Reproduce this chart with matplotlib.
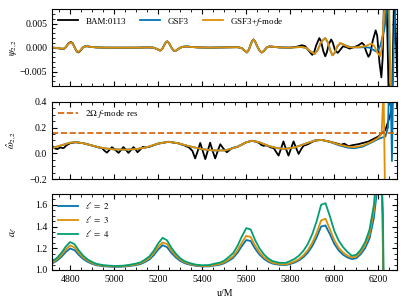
import numpy as np
import matplotlib
matplotlib.use('Agg')
import matplotlib.pyplot as plt
from matplotlib.ticker import MultipleLocator

plt.rcParams['font.family'] = 'serif'
plt.rcParams['font.serif'] = ['Liberation Serif', 'DejaVu Serif']
plt.rcParams['mathtext.fontset'] = 'stix'
plt.rcParams['font.size'] = 7
plt.rcParams['axes.linewidth'] = 0.8

C_BLUE = '#0173B2'
C_ORANGE = '#DE8F05'
C_GREEN = '#029E73'
C_RED = '#D55E00'

# ---- top panel: psi_22 (units of 1e-3) ----
u_psi_early = [4718, 4740, 4760, 4772, 4782, 4792, 4803, 4812, 4822, 4830, 4837, 4846, 4857,
               4866, 4878, 4895, 4920, 4960, 5100, 5150, 5180, 5195, 5209, 5218, 5228, 5236,
               5242, 5250, 5260, 5270, 5278, 5288, 5300, 5315, 5330, 5350, 5380, 5430, 5500,
               5560, 5580, 5592, 5603, 5612, 5620, 5627, 5633, 5640, 5650, 5660, 5670, 5680,
               5692, 5705, 5720, 5750, 5800]
psi_early = [0.0, -0.05, -0.2, -0.2, 0.2, 0.8, 1.1, 0.8, -0.1, -0.7, -0.9, -0.6, 0.0,
             0.25, 0.3, 0.15, 0.05, 0.0, 0.0, 0.05, 0.0, -0.3, -0.6, -0.3, 0.6, 1.2,
             1.3, 0.9, 0.0, -0.6, -0.7, -0.4, 0.0, 0.2, 0.25, 0.15, 0.05, 0.0, 0.05,
             0.1, -0.1, -0.6, -1.0, -0.4, 0.6, 1.4, 1.7, 1.3, 0.3, -0.6, -1.0, -0.7,
             0.0, 0.25, 0.2, 0.05, 0.0]
# BAM:0113 is slightly stronger in the first burst
psi_early_bam = [0.0, -0.08, -0.25, -0.25, 0.2, 0.9, 1.2, 0.9, -0.1, -0.8, -1.0, -0.7, 0.0,
                 0.25, 0.3, 0.15, 0.05, 0.0, 0.0, 0.05, 0.0, -0.3, -0.6, -0.3, 0.6, 1.2,
                 1.3, 0.9, 0.0, -0.6, -0.7, -0.4, 0.0, 0.2, 0.25, 0.15, 0.05, 0.0, 0.05,
                 0.1, -0.1, -0.6, -1.0, -0.4, 0.6, 1.4, 1.7, 1.3, 0.3, -0.6, -1.0, -0.7,
                 0.0, 0.25, 0.2, 0.05, 0.0]

u_psi_f_late = [5850, 5875, 5892, 5911, 5925, 5940, 5959, 5972, 5982, 5992, 6002, 6013, 6027,
                6040, 6060, 6080, 6110, 6140, 6160, 6171, 6182, 6195, 6209, 6216, 6222, 6228,
                6238, 6248, 6253, 6258, 6262]
psi_f_late = [0.15, -0.1, -0.8, -1.3, -0.5, 1.2, 2.0, 1.0, -0.6, -1.6, -1.0, 0.3, 1.0,
              0.7, 0.2, 0.05, 0.1, 0.3, 0.7, 0.8, 0.3, -1.0, -1.8, 0.0, 4.0, 9.0,
              12.0, 12.0, 0.0, -12.0, -12.0]

u_psi_g_late = [5850, 5875, 5892, 5911, 5925, 5940, 5959, 5972, 5982, 5992, 6002, 6013, 6027,
                6040, 6060, 6080, 6110, 6140, 6160, 6175, 6190, 6200, 6210, 6220, 6227, 6234,
                6240, 6246, 6252, 6258, 6264, 6270, 6278]
psi_g_late = [0.15, -0.1, -0.8, -1.3, -0.5, 1.2, 2.0, 1.0, -0.6, -1.6, -1.1, 0.2, 0.9,
              0.7, 0.3, 0.1, 0.05, 0.1, 0.0, -0.4, -0.8, -0.5, 0.5, 2.5, 3.7, 6.0,
              12.0, 8.0, -2.0, -12.0, -12.0, 0.0, 8.0]

u_psi_bam_late = [5830, 5853, 5868, 5885, 5900, 5908, 5918, 5932, 5940, 5950, 5959, 5966, 5975,
                  5986, 5993, 6003, 6016, 6028, 6040, 6055, 6070, 6083, 6095, 6110, 6126, 6135,
                  6145, 6155, 6163, 6175, 6188, 6195, 6205, 6214, 6220, 6227, 6237, 6248, 6262,
                  6272, 6286]
psi_bam_late = [0.2, 0.5, 0.3, -0.7, -1.5, -1.0, 0.5, 2.0, 1.3, -0.7, -1.8, -1.0, 0.7,
                1.7, 1.1, -0.5, -1.1, -0.4, 0.3, 0.1, -0.2, 0.0, 0.2, 0.5, 1.0, 0.6,
                -0.8, -1.9, -1.3, 1.5, 3.6, 2.5, -3.0, -6.2, -2.0, 12.0, 12.0, -12.0, -12.0,
                12.0, -6.0]

# ---- middle panel: omega_hat_22 ----
u_om_f = [4718, 4760, 4800, 4825, 4860, 4900, 4950, 5000, 5050, 5100, 5150, 5200, 5247,
          5290, 5340, 5400, 5450, 5505, 5560, 5600, 5626, 5660, 5700, 5740, 5773, 5820,
          5870, 5910, 5941, 5980, 6020, 6060, 6091, 6130, 6170, 6198, 6215, 6224, 6232]
om_f = [0.040, 0.062, 0.082, 0.086, 0.078, 0.060, 0.040, 0.030, 0.028, 0.032, 0.048, 0.075, 0.089,
        0.078, 0.055, 0.032, 0.022, 0.022, 0.050, 0.085, 0.097, 0.085, 0.058, 0.040, 0.034, 0.045,
        0.075, 0.098, 0.104, 0.090, 0.068, 0.052, 0.047, 0.060, 0.090, 0.118, 0.150, 0.50, -0.50]

u_om_g = [4718, 4760, 4800, 4825, 4860, 4900, 4950, 5000, 5050, 5100, 5150, 5200, 5247,
          5290, 5340, 5400, 5450, 5505, 5560, 5600, 5626, 5660, 5700, 5740, 5773, 5820,
          5870, 5910, 5941, 5980, 6020, 6060, 6091, 6130, 6170, 6198, 6232, 6244, 6250,
          6256, 6262, 6268]
om_g = [0.040, 0.062, 0.082, 0.086, 0.078, 0.060, 0.040, 0.030, 0.028, 0.032, 0.048, 0.075, 0.089,
        0.078, 0.055, 0.032, 0.022, 0.022, 0.050, 0.085, 0.097, 0.085, 0.058, 0.040, 0.034, 0.045,
        0.075, 0.098, 0.104, 0.088, 0.063, 0.044, 0.039, 0.052, 0.085, 0.110, 0.130, 0.20, 0.60,
        0.50, -0.06, 0.60]

u_om_bam = [4718, 4725, 4733, 4742, 4750, 4757, 4765, 4772, 4782, 4800, 4825, 4860, 4900,
            4930, 4945, 4956, 4967, 4978, 4990, 5004, 5020, 5031, 5042, 5054, 5065, 5076,
            5088, 5097, 5106, 5118, 5130, 5142, 5160, 5200, 5247, 5290, 5320, 5340, 5355,
            5368, 5380, 5391, 5402, 5414, 5425, 5436, 5447, 5459, 5470, 5482, 5497, 5512,
            5524, 5535, 5560, 5600, 5626, 5650, 5662, 5671, 5680, 5690, 5700, 5712, 5725,
            5736, 5747, 5758, 5769, 5780, 5792, 5803, 5815, 5827, 5838, 5849, 5860, 5880,
            5910, 5941, 5980, 6020, 6030, 6045, 6065, 6080, 6110, 6155, 6200, 6232, 6255,
            6270, 6278, 6286]
om_bam = [0.055, 0.048, 0.036, 0.032, 0.040, 0.046, 0.040, 0.042, 0.060, 0.078, 0.086, 0.078, 0.060,
          0.045, 0.040, 0.020, 0.005, 0.025, 0.047, 0.028, 0.003, 0.025, 0.048, 0.025, 0.003, 0.025,
          0.048, 0.030, 0.008, 0.028, 0.050, 0.045, 0.050, 0.075, 0.089, 0.078, 0.060, 0.045, 0.020,
          -0.040, 0.020, 0.080, 0.020, -0.045, 0.018, 0.082, 0.020, -0.040, 0.015, 0.070, 0.035, 0.008,
          0.025, 0.040, 0.050, 0.085, 0.097, 0.088, 0.075, 0.062, 0.058, 0.062, 0.055, 0.045, 0.040,
          0.010, -0.018, 0.035, 0.092, 0.035, -0.018, 0.035, 0.092, 0.040, -0.005, 0.030, 0.058, 0.070,
          0.098, 0.104, 0.090, 0.072, 0.065, 0.075, 0.055, 0.062, 0.071, 0.091, 0.130, 0.180, 0.300,
          0.450, 0.60, 0.35]

fmode_res = 0.16

# ---- bottom panel: a_l ----
u_a = [4718, 4740, 4760, 4780, 4800, 4820, 4840, 4860, 4880, 4900, 4920, 4950, 4980, 5010,
       5040, 5070, 5100, 5120, 5140, 5160, 5180, 5200, 5220, 5240, 5260, 5280, 5300, 5320,
       5340, 5370, 5400, 5430, 5460, 5480, 5500, 5520, 5540, 5560, 5580, 5600, 5620, 5640,
       5660, 5680, 5700, 5720, 5750, 5780, 5800, 5820, 5840, 5860, 5880, 5900, 5920, 5940,
       5960, 5980, 6000, 6020, 6040, 6060, 6080, 6100, 6120, 6140, 6160, 6180, 6195, 6210]
a2 = [1.060, 1.085, 1.120, 1.165, 1.198, 1.182, 1.137, 1.100, 1.074, 1.056, 1.043, 1.034, 1.030, 1.028,
      1.030, 1.036, 1.045, 1.054, 1.073, 1.096, 1.136, 1.188, 1.228, 1.210, 1.157, 1.115, 1.083, 1.062,
      1.050, 1.038, 1.032, 1.033, 1.042, 1.048, 1.061, 1.084, 1.110, 1.157, 1.220, 1.275, 1.267, 1.197,
      1.142, 1.103, 1.075, 1.058, 1.047, 1.045, 1.055, 1.068, 1.088, 1.118, 1.160, 1.220, 1.300, 1.400,
      1.410, 1.330, 1.240, 1.180, 1.140, 1.115, 1.100, 1.108, 1.145, 1.200, 1.290, 1.480, 1.750, 2.000]
a3 = [1.068, 1.097, 1.137, 1.188, 1.226, 1.207, 1.156, 1.114, 1.084, 1.064, 1.049, 1.039, 1.034, 1.032,
      1.034, 1.041, 1.051, 1.062, 1.083, 1.109, 1.155, 1.214, 1.252, 1.239, 1.179, 1.131, 1.095, 1.071,
      1.057, 1.043, 1.036, 1.038, 1.048, 1.055, 1.070, 1.096, 1.125, 1.179, 1.251, 1.314, 1.304, 1.225,
      1.162, 1.117, 1.086, 1.066, 1.054, 1.051, 1.063, 1.078, 1.100, 1.135, 1.182, 1.251, 1.342, 1.456,
      1.472, 1.376, 1.274, 1.205, 1.160, 1.131, 1.114, 1.123, 1.165, 1.228, 1.331, 1.547, 1.855, 2.140]
a4 = [1.078, 1.111, 1.156, 1.215, 1.257, 1.237, 1.178, 1.130, 1.096, 1.073, 1.056, 1.044, 1.039, 1.036,
      1.039, 1.047, 1.059, 1.070, 1.095, 1.125, 1.177, 1.244, 1.296, 1.273, 1.204, 1.150, 1.108, 1.081,
      1.065, 1.049, 1.043, 1.045, 1.059, 1.067, 1.085, 1.118, 1.154, 1.220, 1.308, 1.385, 1.374, 1.276,
      1.199, 1.144, 1.105, 1.081, 1.066, 1.065, 1.082, 1.102, 1.132, 1.177, 1.240, 1.330, 1.450, 1.600,
      1.615, 1.495, 1.360, 1.270, 1.210, 1.165, 1.130, 1.140, 1.185, 1.255, 1.370, 1.600, 1.950, 2.250]
# plunge of the amplitude curves after the last peak
u_a2_end, a2_end = [6219, 6223], [1.5, 0.8]
u_a3_end, a3_end = [6220, 6224], [1.5, 0.8]
u_a4_end, a4_end = [6221, 6225], [1.5, 0.8]

fig = plt.figure(figsize=(4.07, 3.05), dpi=100)
ax1 = fig.add_axes([0.128, 0.718, 0.848, 0.2515])
ax2 = fig.add_axes([0.128, 0.413, 0.848, 0.2534])
ax3 = fig.add_axes([0.128, 0.115, 0.848, 0.249])

lw = 1.3
ax1.plot(u_psi_early + u_psi_bam_late, np.array(psi_early_bam + psi_bam_late) * 1e-3,
         color='k', lw=lw, label='BAM:0113')
ax1.plot(u_psi_early + u_psi_g_late, np.array(psi_early + psi_g_late) * 1e-3,
         color=C_BLUE, lw=lw, label='GSF3')
ax1.plot(u_psi_early + u_psi_f_late, np.array(psi_early + psi_f_late) * 1e-3,
         color=C_ORANGE, lw=lw, label='GSF3+$f$-mode')
ax1.set_ylim(-0.008, 0.008)
ax1.set_ylabel(r'$\psi_{2,2}$')
ax1.yaxis.set_major_locator(MultipleLocator(0.005))
ax1.yaxis.set_minor_locator(MultipleLocator(0.001))
ax1.legend(loc='upper left', ncol=3, frameon=False, fontsize=6.5, handlelength=2.2,
           columnspacing=1.6, borderaxespad=0.3)

ax2.plot(u_om_bam, om_bam, color='k', lw=lw)
ax2.plot(u_om_g, om_g, color=C_BLUE, lw=lw)
ax2.plot(u_om_f, om_f, color=C_ORANGE, lw=lw)
ax2.axhline(fmode_res, color=C_RED, ls='--', lw=1.2, label=r'$2\Omega$ $f$-mode res')
ax2.set_ylim(-0.2, 0.4)
ax2.set_ylabel(r'$\hat{\omega}_{2,2}$')
ax2.yaxis.set_major_locator(MultipleLocator(0.2))
ax2.yaxis.set_minor_locator(MultipleLocator(0.05))
ax2.legend(loc='upper left', frameon=False, fontsize=6.5, handlelength=2.2, borderaxespad=0.3)

ax3.plot(u_a + u_a2_end, a2 + a2_end, color=C_BLUE, lw=lw, label=r'$\ell\ =\ 2$')
ax3.plot(u_a + u_a3_end, a3 + a3_end, color=C_ORANGE, lw=lw, label=r'$\ell\ =\ 3$')
ax3.plot(u_a + u_a4_end, a4 + a4_end, color=C_GREEN, lw=lw, label=r'$\ell\ =\ 4$')
ax3.set_ylim(1.0, 1.7)
ax3.set_ylabel(r'$a_\ell$')
ax3.set_xlabel('u/M')
ax3.yaxis.set_major_locator(MultipleLocator(0.2))
ax3.yaxis.set_minor_locator(MultipleLocator(0.05))
ax3.legend(loc='upper left', frameon=False, fontsize=6.5, handlelength=2.2, borderaxespad=0.3,
           labelspacing=0.3)

for ax in (ax1, ax2, ax3):
    ax.set_xlim(4718, 6286)
    ax.xaxis.set_major_locator(MultipleLocator(200))
    ax.xaxis.set_minor_locator(MultipleLocator(50))
    ax.tick_params(which='both', direction='in', top=True, right=True, labelsize=7)
    ax.tick_params(which='major', length=3.5)
    ax.tick_params(which='minor', length=2)
ax1.tick_params(labelbottom=False)
ax2.tick_params(labelbottom=False)
for ax in (ax1, ax2, ax3):
    ax.yaxis.set_label_coords(-0.095, 0.5)

fig.savefig('out.png', dpi=100)
